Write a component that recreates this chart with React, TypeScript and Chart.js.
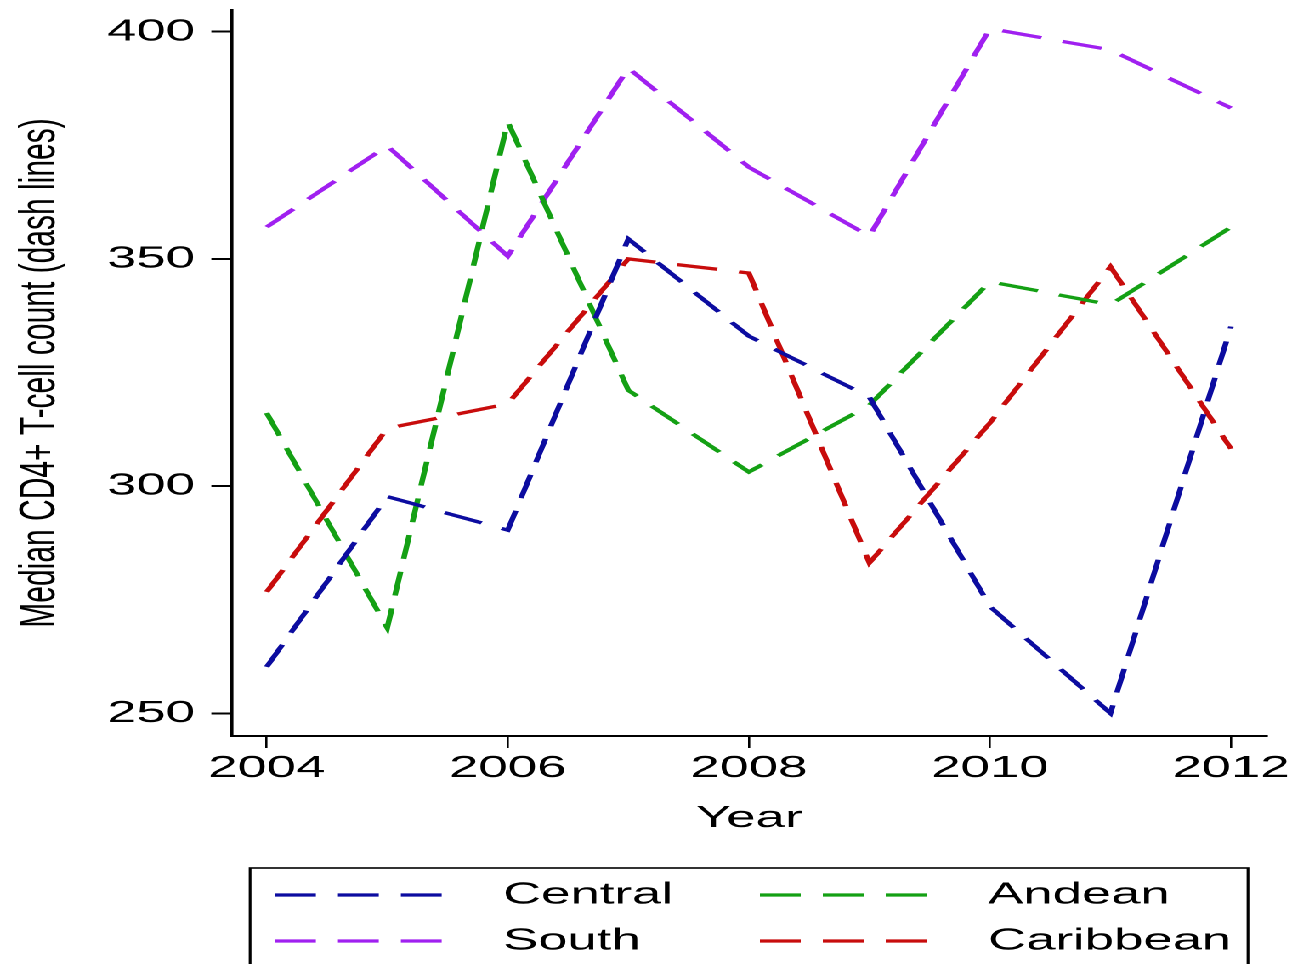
import React, { useEffect, useRef } from "react";
import { Chart, registerables } from "chart.js";

Chart.register(...registerables);

// ---- data ----
const years = [2004, 2005, 2006, 2007, 2008, 2009, 2010, 2011, 2012];
const centralValues = [260.2, 297.7, 290.3, 354.4, 333.0, 319.6, 273.5, 250.0, 335.1];
const andeanValues = [316.1, 268.8, 380.2, 321.1, 303.1, 317.8, 345.0, 339.9, 357.0];
const southValues = [357.0, 374.9, 350.6, 392.0, 370.2, 355.0, 400.7, 396.0, 383.2];
const caribbeanValues = [276.7, 312.7, 318.1, 350.0, 346.9, 283.1, 313.9, 348.3, 308.2];
const seriesNames = ["Central", "Andean", "South", "Caribbean"];
const seriesColors = ["#0c0ca0", "#14a014", "#a020f0", "#c80c0c"];
const xTickValues = [2004, 2006, 2008, 2010, 2012];
const yTickValues = [250, 300, 350, 400];
const xTitle = "Year";
const yTitle = "Median CD4+ T-cell count (dash lines)";

// ---- layout ----
const STRETCH = 1.7;
const W = 763;
const H = 964;
const FONT = '"Liberation Sans", Arial, Helvetica, sans-serif';
const DASH = [24, 13];

const legendPlugin = {
  id: "boxLegend",
  afterDraw(chart: any) {
    const ctx = chart.ctx;
    ctx.save();
    ctx.strokeStyle = "#000";
    ctx.lineWidth = 1.6;
    ctx.setLineDash([]);
    ctx.strokeRect(147.1, 868, 587, 160);
    const cols = [
      { lx: 161.8, tx: 295.9 },
      { lx: 447, tx: 581.2 },
    ];
    const rows = [895, 941];
    chart.data.datasets.forEach((ds: any, i: number) => {
      const c = cols[i % 2];
      const y = rows[Math.floor(i / 2)];
      ctx.strokeStyle = ds.borderColor;
      ctx.lineWidth = 3.2;
      ctx.setLineDash(ds.borderDash);
      ctx.beginPath();
      ctx.moveTo(c.lx, y);
      ctx.lineTo(c.lx + 100, y);
      ctx.stroke();
      ctx.setLineDash([]);
      ctx.fillStyle = "#000";
      ctx.font = `31px ${FONT}`;
      ctx.textBaseline = "middle";
      ctx.textAlign = "left";
      ctx.fillText(ds.label, c.tx, y);
    });
    ctx.restore();
  },
};

export default function App() {
  const ref = useRef<HTMLCanvasElement | null>(null);

  useEffect(() => {
    if (!ref.current) return;
    const series = [centralValues, andeanValues, southValues, caribbeanValues];
    const chart = new Chart(ref.current, {
      type: "line",
      data: {
        datasets: series.map((vals, i) => ({
          label: seriesNames[i],
          data: years.map((x, j) => ({ x, y: vals[j] })),
          borderColor: seriesColors[i],
          backgroundColor: seriesColors[i],
          borderWidth: 3.3,
          borderDash: DASH,
          pointRadius: 0,
          tension: 0,
          fill: false,
        })),
      },
      options: {
        animation: false,
        responsive: false,
        devicePixelRatio: 2,
        layout: { padding: { left: 0, top: 10, right: 17.9, bottom: 0 } },
        plugins: {
          legend: { display: false },
          tooltip: { enabled: false },
        },
        scales: {
          x: {
            type: "linear",
            min: 2003.71,
            max: 2012.296,
            afterBuildTicks: (scale: any) => {
              scale.ticks = xTickValues.map((v) => ({ value: v }));
            },
            afterFit: (scale: any) => {
              scale.height = H - 736;
              scale.paddingLeft = 0;
              scale.paddingRight = 0;
            },
            grid: {
              drawOnChartArea: false,
              drawTicks: true,
              tickLength: 12,
              color: "#000",
              lineWidth: 1.3,
            },
            border: { display: true, color: "#000", width: 2 },
            ticks: {
              autoSkip: false,
              maxRotation: 0,
              padding: 2,
              color: "#000",
              font: { family: FONT, size: 31 },
              callback: (v: any) => String(v),
            },
            title: {
              display: true,
              text: xTitle,
              color: "#000",
              font: { family: FONT, size: 31 },
              padding: { top: 0, bottom: 127 },
            },
          },
          y: {
            type: "linear",
            min: 245.0,
            max: 404.78,
            afterBuildTicks: (scale: any) => {
              scale.ticks = yTickValues.map((v) => ({ value: v }));
            },
            afterFit: (scale: any) => {
              scale.width = 136.3;
              scale.paddingTop = 0;
              scale.paddingBottom = 0;
            },
            grid: {
              drawOnChartArea: false,
              drawTicks: true,
              tickLength: 12,
              color: "#000",
              lineWidth: 2,
            },
            border: { display: true, color: "#000", width: 1.8 },
            ticks: {
              padding: 9.6,
              color: "#000",
              font: { family: FONT, size: 31 },
              callback: (v: any) => String(v),
            },
            title: {
              display: true,
              text: yTitle,
              color: "#000",
              font: { family: FONT, size: 30 },
              padding: { top: 5.7, bottom: 0 },
            },
          },
        },
      },
      plugins: [legendPlugin],
    } as any);
    return () => chart.destroy();
  }, []);

  return (
    <div
      style={{
        position: "absolute",
        left: 0,
        top: 0,
        width: W,
        height: H,
        transform: `scaleX(${STRETCH})`,
        transformOrigin: "0 0",
        background: "#fff",
        overflow: "hidden",
      }}
    >
      <canvas ref={ref} width={W} height={H} />
    </div>
  );
}
